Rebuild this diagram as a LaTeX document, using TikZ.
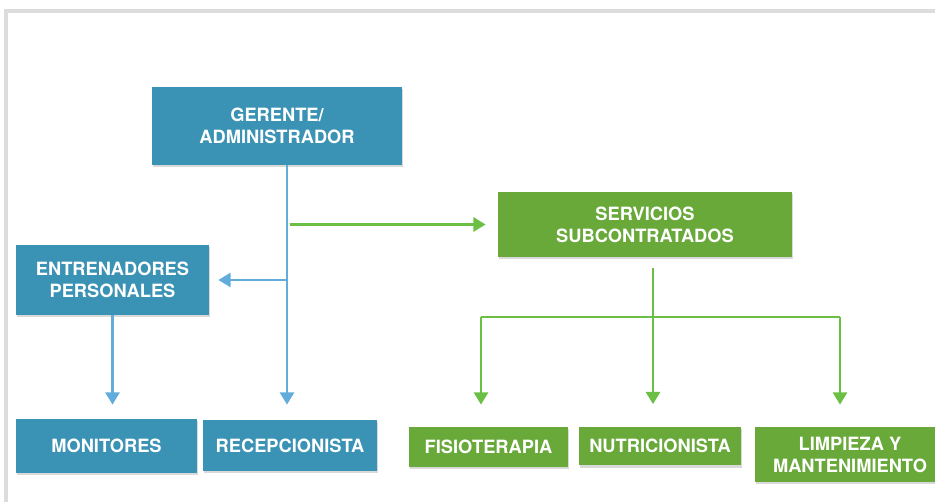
\documentclass[tikz,border=0pt]{standalone}
\usepackage{fontspec}
\setmainfont{TeX Gyre Heros}
\usetikzlibrary{arrows,arrows.meta,shadows}

\definecolor{boxblue}{HTML}{3A92B4}
\definecolor{boxgreen}{HTML}{68A93A}
\definecolor{lineblue}{HTML}{62ACDC}
\definecolor{linegreen}{HTML}{6CBF45}
\definecolor{framegray}{HTML}{DCDCDC}

\begin{document}
\begin{tikzpicture}[
x=0.02cm, y=-0.02cm,
box/.style={font=\bfseries\fontsize{10.4}{12.5}\selectfont, text=white, align=center, inner sep=0pt,
  drop shadow={shadow xshift=0.4pt, shadow yshift=-1.2pt, opacity=0.3}},
bluebox/.style={box, fill=boxblue},
greenbox/.style={box, fill=boxgreen},
bline/.style={-{Triangle[length=7pt,width=8pt]}, line width=1.5pt, draw=lineblue},
gline/.style={line width=1.6pt, draw=linegreen},
garrow/.style={gline, -{Triangle[length=7pt,width=8pt]}} ]

\useasboundingbox (0,0) rectangle (935,502);

\clip (0,0) rectangle (935,502);

\draw[framegray, line width=0.08cm] (6,502) -- (6,11) -- (935,11);

\node[bluebox, minimum width=5cm, minimum height=1.56cm] (ger) at (277,126) {GERENTE/\\ADMINISTRADOR};

\node[greenbox, minimum width=5.88cm, minimum height=1.3cm] (serv) at (645,224.5) {SERVICIOS\\SUBCONTRATADOS};

\node[bluebox, minimum width=3.86cm, minimum height=1.4cm] (ent) at (112.5,280) {ENTRENADORES\\PERSONALES};

\node[bluebox, minimum width=3.62cm, minimum height=1.08cm] (mon) at (106.5,446) {MONITORES};

\node[bluebox, minimum width=3.48cm, minimum height=1.02cm] (rec) at (290,445.5) {RECEPCIONISTA};

\node[greenbox, minimum width=3.18cm, minimum height=0.8cm] (fis) at (488.5,447) {FISIOTERAPIA};

\node[greenbox, minimum width=3.24cm, minimum height=0.78cm] (nut) at (660,446) {NUTRICIONISTA};

\node[greenbox, minimum width=3.8cm, minimum height=1.1cm] (lim) at (850,454.5) {LIMPIEZA Y\\MANTENIMIENTO};

% staff side
\coordinate (trunk) at (287,165);

\draw[bline, shorten >=0.3cm] (trunk) -- (trunk |- rec.north);

\draw[bline, shorten >=0.18cm] (trunk |- ent.east) -- (ent.east);

\draw[bline, shorten >=0.28cm] (ent.south) -- (ent.south |- mon.north);

\draw[garrow, shorten <=1.5pt, shorten >=0.24cm] (trunk |- serv.west) -- (serv.west);

% subcontracted services
\coordinate (b1) at (481,317);

\coordinate (b2) at (653,317);

\coordinate (b3) at (840,317);

\draw[gline, shorten <=0.22cm] (serv.south -| b2) -- (b2);

\draw[gline] (b1) -- (b3);

\draw[garrow, shorten >=0.44cm] (b1) -- (b1 |- fis.north);

\draw[garrow, shorten >=0.44cm] (b2) -- (b2 |- nut.north);

\draw[garrow, shorten >=0.44cm] (b3) -- (b3 |- lim.north);

\end{tikzpicture}
\end{document}
